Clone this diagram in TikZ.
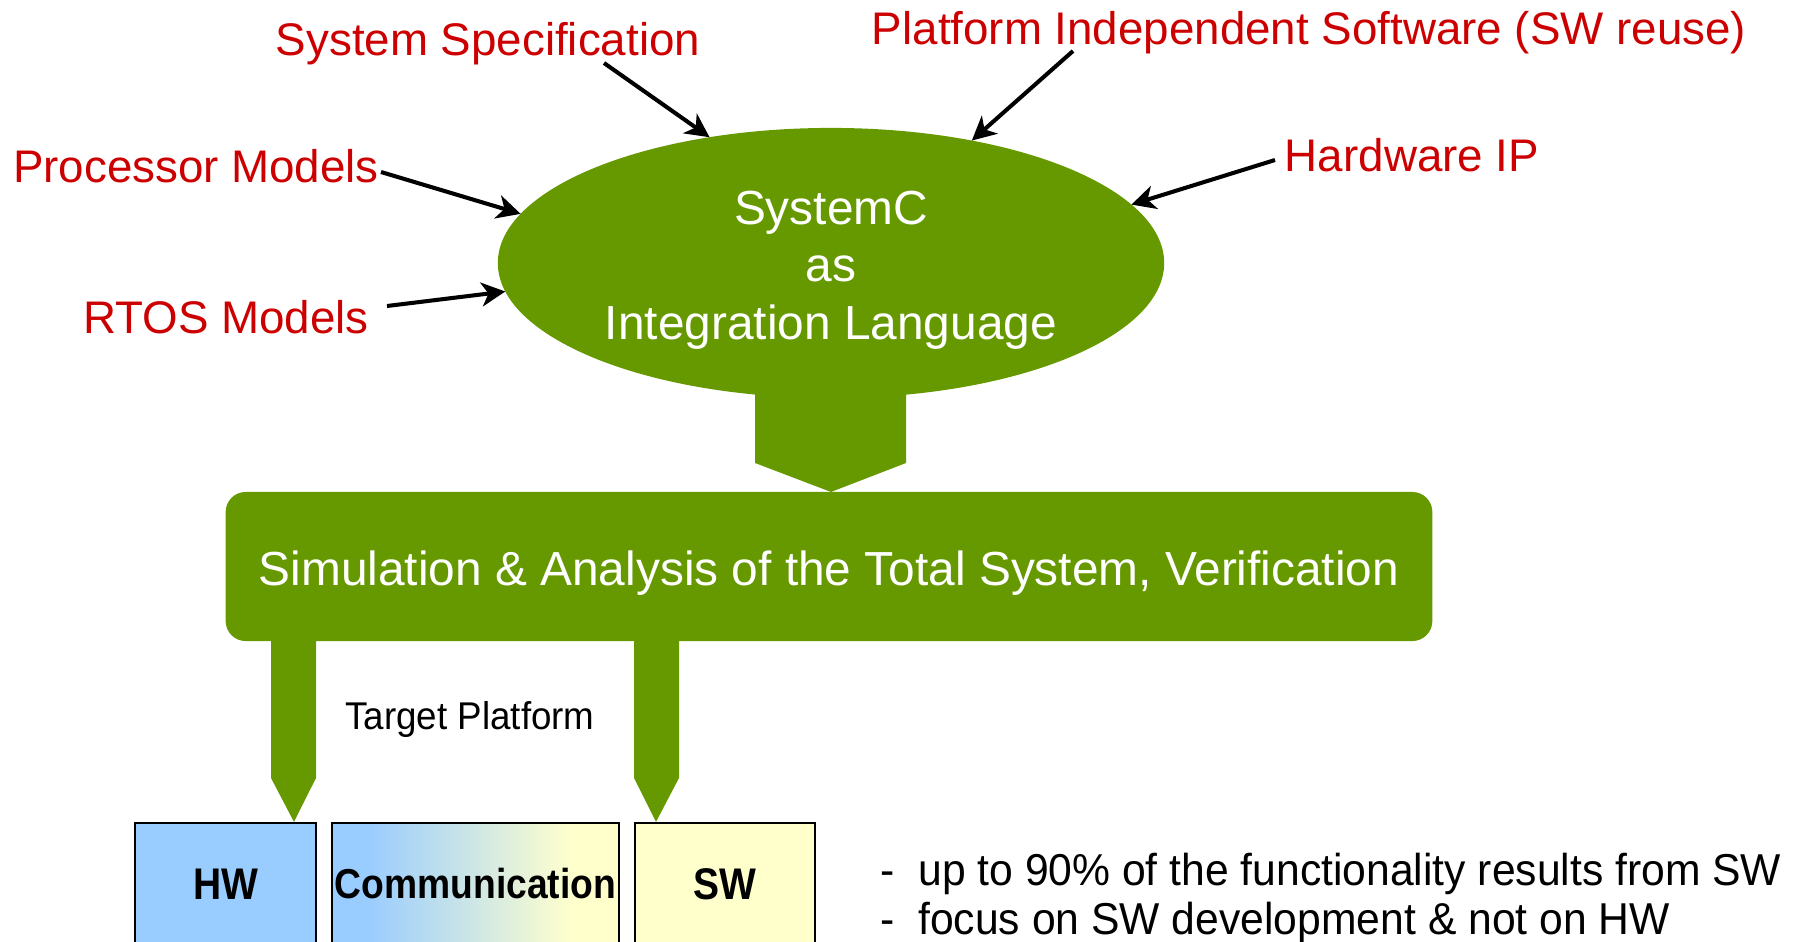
\documentclass[tikz,border=0pt]{standalone}
\usepackage{fontspec}
\usepackage{graphicx}
\setmainfont{Liberation Sans}
\usetikzlibrary{arrows.meta,shapes.geometric,calc}
\definecolor{leaf}{HTML}{669900}
\definecolor{labelred}{HTML}{CC0000}
\definecolor{hwblue}{HTML}{99CCFF}
\definecolor{swyellow}{HTML}{FFFFCC}
% blue on the left, fading into pale yellow on the right
\pgfdeclarehorizontalshading{commfade}{100bp}{color(0bp)=(hwblue); color(31bp)=(hwblue); color(67bp)=(swyellow); color(100bp)=(swyellow)}
% slightly narrowed lettering
\newcommand{\narrow}[2]{\scalebox{#1}[1]{#2}}

\begin{document}
\begin{tikzpicture}[x=0.01cm, y=-0.01cm,
  redlabel/.style={text=labelred, font=\fontsize{13}{15.6}\selectfont, inner sep=0},
  feed/.style={line width=1.15pt, -{Stealth[length=6.8pt,width=6.8pt,inset=2pt]}},
  flow/.style={fill=leaf, draw=none},
  block/.style={draw=black, line width=0.6pt, minimum height=1.22cm, inner sep=0,
                font=\bfseries\fontsize{12.6}{14}\selectfont},
  bigtext/.style={text=white, font=\fontsize{13.6}{16.4}\selectfont},
  bullet/.style={anchor=west, inner sep=0, font=\fontsize{12.7}{14}\selectfont},
]
\useasboundingbox (0,0) rectangle (1793,942);

% central language ellipse
\node[ellipse, fill=leaf, minimum width=6.66cm, minimum height=2.7cm,
      inner sep=0, outer sep=0, bigtext] (sysc) at (831,263) {};
\node[align=center, inner sep=0, bigtext] (syscText) at (831,270)
  {SystemC\\as\\Integration Language};

% simulation bar
\node[rectangle, rounded corners=0.2cm, fill=leaf, minimum width=12.06cm,
      minimum height=1.49cm, inner sep=0, outer sep=0] (sim) at (829,566.5) {};
\node[inner sep=0, bigtext] (simText) at (829,573)
  {Simulation \& Analysis of the Total System, Verification};

% block arrow from the ellipse into the bar
\fill[flow] (755,370) -- (755,463) -- (sysc.center |- sim.north) -- (906,463) -- (906,370) -- cycle;

% target platform blocks
\node[block, fill=hwblue, minimum width=1.81cm] (hw) at (225.5,884) {\narrow{0.88}{HW}};
\node[block, shading=commfade, minimum width=2.87cm,
      font=\bfseries\fontsize{11.9}{13}\selectfont] (comm) at (475.5,884) {\narrow{0.89}{Communication}};
\node[block, fill=swyellow, minimum width=1.80cm] (sw) at (725,884) {\narrow{0.88}{SW}};

% block arrows from the bar down to HW and SW
\fill[flow] (271,0 |- sim.south) -- (271,778) -- (294,0 |- hw.north) -- (316,778) -- (316,0 |- sim.south) -- cycle;
\fill[flow] (634,0 |- sim.south) -- (634,778) -- (656,0 |- sw.north) -- (679,778) -- (679,0 |- sim.south) -- cycle;

\node[inner sep=0, font=\fontsize{11}{12}\selectfont] (tp) at (470,719) {\narrow{0.95}{Target Platform}};

% inputs feeding the ellipse
\node[redlabel] (ss)   at (488,44)   {System Specification};
\node[redlabel] (pis)  at (1309,33)  {Platform Independent Software (SW reuse)};
\node[redlabel] (pm)   at (196,166)  {Processor Models};
\node[redlabel] (hip)  at (1412,155) {Hardware IP};
\node[redlabel] (rtos) at (226,317)  {RTOS Models};

\coordinate (ssout)   at (604,63);
\coordinate (pisout)  at (1073,51);
\coordinate (pmout)   at (381,172);
\coordinate (hipout)  at (1275,160);
\coordinate (rtosout) at (387,306);

\draw[feed] (ssout)   -- (sysc.134);
\draw[feed] (pisout)  -- (sysc.41.5);
\draw[feed] (pmout)   -- (sysc.171.7);
\draw[feed] (hipout)  -- (sysc.11.2);
\draw[feed] (rtosout) -- (sysc.185.3);

% remarks
\node[bullet] (b1) at (880,874) {\narrow{0.955}{-\hspace{0.55em}up to 90\% of the functionality results from SW}};
\node[bullet] (b2) at (880,923) {\narrow{0.955}{-\hspace{0.55em}focus on SW development \& not on HW}};
\end{tikzpicture}
\end{document}
